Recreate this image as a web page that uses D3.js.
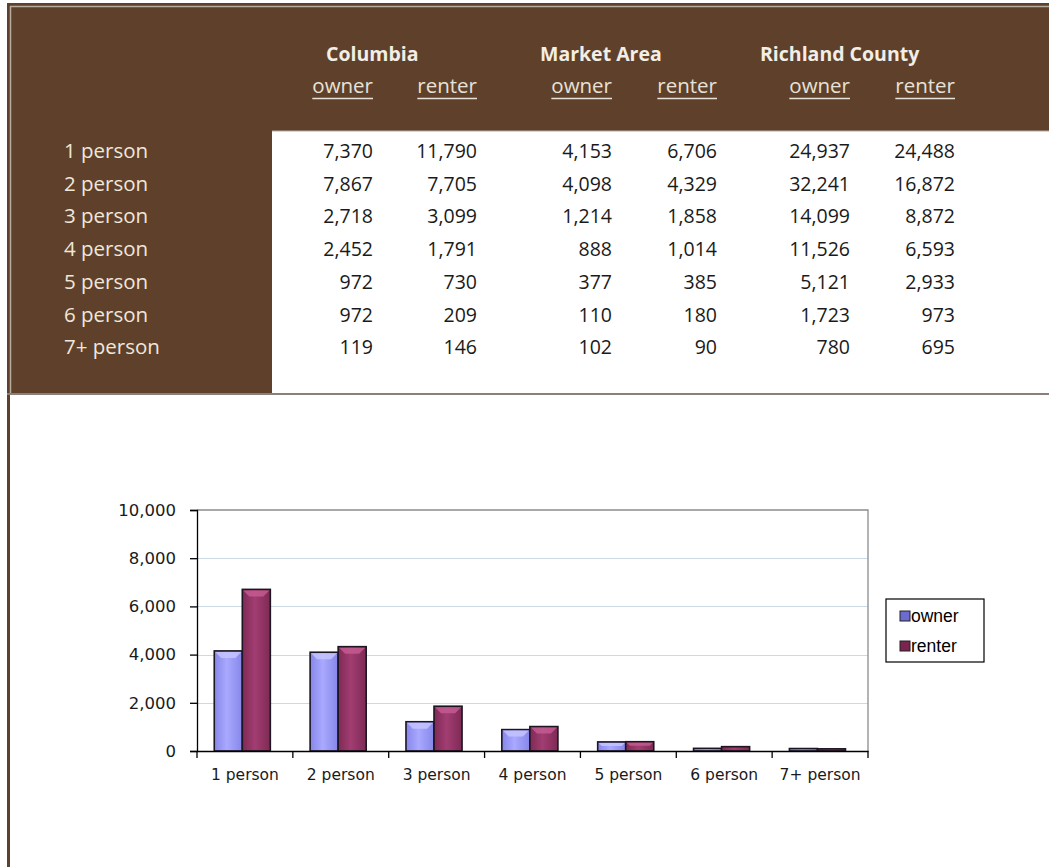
<!DOCTYPE html>
<html><head><meta charset="utf-8">
<script src="https://cdn.jsdelivr.net/npm/d3@7"></script>
<style>body{margin:0;background:#fff;} svg{display:block}</style>
</head><body><svg id="c" width="1049" height="867"></svg>
<script>
// ---- data ----
const categories = ["1 person","2 person","3 person","4 person","5 person","6 person","7+ person"];
const areas = ["Columbia","Market Area","Richland County"];
const tenures = ["owner","renter"];
const columbiaOwner  = [7370,7867,2718,2452,972,972,119];
const columbiaRenter = [11790,7705,3099,1791,730,209,146];
const marketOwner    = [4153,4098,1214,888,377,110,102];
const marketRenter   = [6706,4329,1858,1014,385,180,90];
const richlandOwner  = [24937,32241,14099,11526,5121,1723,780];
const richlandRenter = [24488,16872,8872,6593,2933,973,695];
const yTicks = [0,2000,4000,6000,8000,10000];

// ---- drawing ----
const svg = d3.select("#c");
const BROWN = "#5f412b";
const fmt = d3.format(",");
const tableFont = "'Open Sans', 'Noto Sans', sans-serif";

// frame
svg.append("rect").attr("x",7).attr("y",3).attr("width",1042).attr("height",128).attr("fill",BROWN);
svg.append("rect").attr("x",7).attr("y",131).attr("width",265).attr("height",262).attr("fill",BROWN);
svg.append("rect").attr("x",272).attr("y",131).attr("width",777).attr("height",262).attr("fill","#fff");
svg.append("rect").attr("x",7).attr("y",393).attr("width",3).attr("height",474).attr("fill",BROWN);
svg.append("line").attr("x1",10).attr("x2",1049).attr("y1",6.5).attr("y2",6.5).attr("stroke","#b7aca2").attr("stroke-width",1.5);
svg.append("line").attr("x1",10.5).attr("x2",10.5).attr("y1",6).attr("y2",393).attr("stroke","#b7aca2").attr("stroke-width",1.5);
svg.append("line").attr("x1",272).attr("x2",1049).attr("y1",131).attr("y2",131).attr("stroke","#b5aca4").attr("stroke-width",1);
svg.append("line").attr("x1",7).attr("x2",1049).attr("y1",394).attr("y2",394).attr("stroke","#8a8079").attr("stroke-width",2);

// table header
const areaX = [326, 540, 760];
svg.selectAll("text.area").data(areas).join("text")
  .attr("x",(d,i)=>areaX[i]).attr("y",61)
  .attr("font-family",tableFont).attr("font-weight","bold").attr("font-size",19.5)
  .attr("fill","#f3eee6").text(d=>d);

const colRight = [373, 477, 612, 717, 850, 955];
const colKeys = [];
areas.forEach(a=>tenures.forEach(t=>colKeys.push(t)));
const sub = svg.selectAll("g.sub").data(colKeys).join("g");
sub.each(function(d,i){
  const g = d3.select(this);
  const t = g.append("text").attr("x",colRight[i]).attr("y",93).attr("text-anchor","end")
    .attr("font-family",tableFont).attr("font-size",20.5).attr("fill","#e8e1d8").text(d);
  const w = t.node().getComputedTextLength();
  g.append("line").attr("x1",colRight[i]-w).attr("x2",colRight[i]).attr("y1",98.5).attr("y2",98.5)
    .attr("stroke","#e8e1d8").attr("stroke-width",1.3);
});

// table rows
const tableCols = [columbiaOwner, columbiaRenter, marketOwner, marketRenter, richlandOwner, richlandRenter];
categories.forEach((c,r)=>{
  const yb = 158 + r*32.7;
  svg.append("text").attr("x",64).attr("y",yb).attr("font-family",tableFont).attr("font-size",20.5)
    .attr("fill","#efe7dc").text(c);
  tableCols.forEach((col,j)=>{
    svg.append("text").attr("x",colRight[j]).attr("y",yb).attr("text-anchor","end")
      .attr("font-family",tableFont).attr("font-size",19.5).attr("fill","#1a1a1a").text(fmt(col[r]));
  });
});

// ---- chart ----
const x = d3.scaleBand().domain(categories).range([197,868]);
const bw = x.bandwidth();
const xs = d3.scaleBand().domain(tenures).range([bw*0.18, bw*0.765]);
const y = d3.scaleLinear().domain([0,10000]).range([751,510]);

const defs = svg.append("defs");
function grad(id, edge, mid){
  const g = defs.append("linearGradient").attr("id",id).attr("x1",0).attr("x2",1).attr("y1",0).attr("y2",0);
  g.append("stop").attr("offset","0%").attr("stop-color",edge);
  g.append("stop").attr("offset","45%").attr("stop-color",mid);
  g.append("stop").attr("offset","100%").attr("stop-color",edge);
}
grad("gOwner","#8686ea","#a9a9ff");
grad("gRenter","#7e2a55","#a23d72");
const fills = {owner:"url(#gOwner)", renter:"url(#gRenter)"};
const tops = {owner:"#c4c4ff", renter:"#c45a90"};
const seriesVals = {owner: marketOwner, renter: marketRenter};

// gridlines
svg.append("g").selectAll("line").data(yTicks.filter(d=>d>0 && d<10000)).join("line")
  .attr("x1",198).attr("x2",868).attr("y1",d=>Math.round(y(d))+0.5).attr("y2",d=>Math.round(y(d))+0.5)
  .attr("stroke","#cbd8e6").attr("stroke-width",1.2);
// plot border top & right
svg.append("path").attr("d",`M197,${y(10000)}H868V${y(0)}`).attr("fill","none").attr("stroke","#8c8c8c").attr("stroke-width",1.3);

// bars
const barG = svg.append("g");
tenures.forEach(t=>{
  const vals = seriesVals[t];
  categories.forEach((c,i)=>{
    const x0 = x(c)+xs(t), w = xs.bandwidth(), y0 = y(vals[i]), h = y(0)-y(vals[i]);
    barG.append("rect").attr("x",x0).attr("y",y0).attr("width",w).attr("height",h)
      .attr("fill",fills[t]).attr("stroke","#1c1622").attr("stroke-width",1.6);
    if(h>8){
      const b = Math.min(6,h/3);
      barG.append("path")
        .attr("d",`M${x0+1},${y0+1}L${x0+w-1},${y0+1}L${x0+w-1-b},${y0+1+b}L${x0+1+b},${y0+1+b}Z`)
        .attr("fill",tops[t]).attr("opacity",0.85);
    }
  });
});

// y axis
const ya = svg.append("g").attr("transform","translate(197,0)")
  .call(d3.axisLeft(y).tickValues(yTicks).tickFormat(fmt).tickSize(7).tickPadding(14));
ya.select(".domain").attr("stroke","#000").attr("stroke-width",1.3);
ya.selectAll(".tick line").attr("stroke","#000").attr("stroke-width",1.3);
ya.selectAll("text").attr("font-family","'DejaVu Sans', Verdana, sans-serif").attr("font-size",16.5).attr("fill","#1a1a1a");

// x axis
const xa = svg.append("g").attr("transform",`translate(0,${y(0)})`)
  .call(d3.axisBottom(x).tickSize(0).tickPadding(18));
xa.select(".domain").attr("stroke","#000").attr("stroke-width",1.3);
xa.selectAll("text").attr("font-family","'DejaVu Sans', Verdana, sans-serif").attr("font-size",15.5).attr("fill","#1a1a1a");
const bounds = categories.map(c=>x(c)).concat([x(categories[categories.length-1])+bw]);
xa.selectAll("line.bd").data(bounds).join("line").attr("class","bd")
  .attr("x1",d=>d).attr("x2",d=>d).attr("y1",0).attr("y2",7).attr("stroke","#000").attr("stroke-width",1.3);

// legend
const lg = svg.append("g").attr("transform","translate(886,599)");
lg.append("rect").attr("width",98).attr("height",63).attr("fill","#fff").attr("stroke","#000").attr("stroke-width",1.2);
const swatch = {owner:"#6b6bd0", renter:"#7a2450"};
tenures.forEach((t,i)=>{
  const cy = 17 + i*30;
  lg.append("rect").attr("x",14).attr("y",cy-5).attr("width",10).attr("height",10)
    .attr("fill",swatch[t]).attr("stroke","#222").attr("stroke-width",1);
  lg.append("text").attr("x",25).attr("y",cy+6).attr("font-family","'Liberation Sans', Arial, sans-serif")
    .attr("font-size",17.5).attr("fill","#000").text(t);
});
</script></body></html>
